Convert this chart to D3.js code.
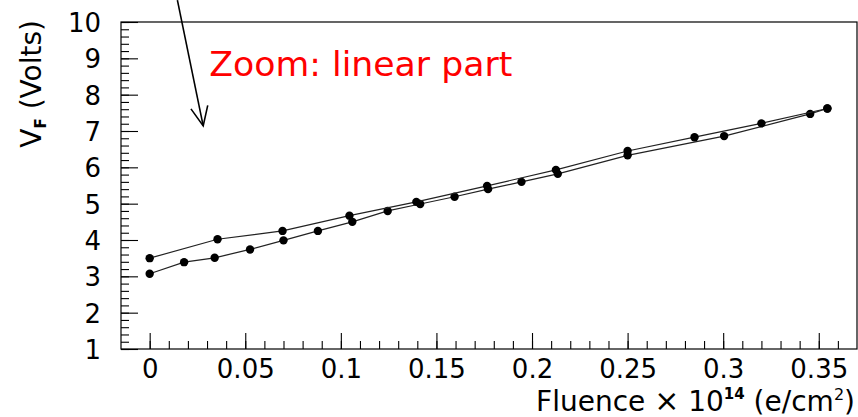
<!DOCTYPE html>
<html>
<head>
<meta charset="utf-8">
<script src="https://cdn.jsdelivr.net/npm/d3@7"></script>
<style>
  html, body { margin: 0; padding: 0; background: #fff; }
  svg { display: block; }
  text { font-family: "DejaVu Sans", sans-serif; fill: #000; }
</style>
</head>
<body>
<svg id="chart" width="858" height="417"></svg>
<script>
// Forward voltage vs. fluence: rising sweep (lower branch) and returning sweep (upper branch)
const riseFluence = [0, 0.018, 0.034, 0.0525, 0.07, 0.088, 0.106, 0.1245, 0.1415, 0.1595, 0.177, 0.1945, 0.2135, 0.25, 0.3005, 0.3455, 0.3545];
const riseVolts   = [3.07, 3.39, 3.51, 3.74, 3.99, 4.25, 4.50, 4.80, 4.99, 5.19, 5.40, 5.60, 5.82, 6.33, 6.86, 7.47, 7.62];
const fallFluence = [0.3545, 0.32, 0.285, 0.25, 0.2125, 0.1765, 0.1395, 0.1045, 0.0695, 0.0355, 0];
const fallVolts   = [7.62, 7.21, 6.83, 6.45, 5.93, 5.49, 5.05, 4.67, 4.25, 4.02, 3.50];

const xTickValues = [0, 0.05, 0.1, 0.15, 0.2, 0.25, 0.3, 0.35];
const xTickLabels = ["0", "0.05", "0.1", "0.15", "0.2", "0.25", "0.3", "0.35"];
const yTickValues = [1, 2, 3, 4, 5, 6, 7, 8, 9, 10];

const svg = d3.select("#chart");
const plotLeft = 121, plotRight = 857, plotTop = 22, plotBottom = 349;

const x = d3.scaleLinear().domain([-0.015, 0.37]).range([plotLeft, plotRight]);
const y = d3.scaleLinear().domain([1, 10]).range([plotBottom, plotTop]);

// frame (left, top, right, bottom)
svg.append("rect")
  .attr("x", plotLeft).attr("y", plotTop)
  .attr("width", plotRight - plotLeft).attr("height", plotBottom - plotTop)
  .attr("fill", "none").attr("stroke", "#000").attr("stroke-width", 1.2);

// x axis: major ticks with labels, minor ticks every 0.01, all pointing inward
const xMinor = d3.range(0, 0.3601, 0.01).map(v => +v.toFixed(3));
svg.append("g").attr("transform", `translate(0,${plotBottom})`)
  .call(d3.axisBottom(x).tickValues(xMinor).tickSizeInner(-8).tickSizeOuter(0).tickFormat(""))
  .call(g => g.select(".domain").remove());
const xAxis = svg.append("g").attr("transform", `translate(0,${plotBottom})`)
  .call(d3.axisBottom(x).tickValues(xTickValues).tickSizeInner(-16).tickSizeOuter(0)
    .tickPadding(6).tickFormat((d, i) => xTickLabels[i]));
xAxis.select(".domain").remove();
xAxis.selectAll("text").attr("font-size", 26).attr("dy", null).attr("y", 29)
  .style("font-family", "DejaVu Sans, sans-serif").attr("fill", "#000");

// y axis: major every 1, minor every 0.2, pointing inward
const yMinor = d3.range(1, 10.001, 0.2).map(v => +v.toFixed(2));
svg.append("g").attr("transform", `translate(${plotLeft},0)`)
  .call(d3.axisLeft(y).tickValues(yMinor).tickSizeInner(-8).tickSizeOuter(0).tickFormat(""))
  .call(g => g.select(".domain").remove());
const yAxis = svg.append("g").attr("transform", `translate(${plotLeft},0)`)
  .call(d3.axisLeft(y).tickValues(yTickValues).tickSizeInner(-17).tickSizeOuter(0)
    .tickPadding(20).tickFormat(d3.format("d")));
yAxis.select(".domain").remove();
yAxis.selectAll("text").attr("font-size", 26).attr("dy", "0.36em")
  .style("font-family", "DejaVu Sans, sans-serif").attr("fill", "#000");
svg.selectAll(".tick line").attr("stroke", "#000").attr("stroke-width", 1.1);

// axis titles
const xTitle = svg.append("text")
  .attr("x", 855).attr("y", 411).attr("text-anchor", "end").attr("font-size", 28);
xTitle.append("tspan").text("Fluence ");
xTitle.append("tspan").text("\u00D7").attr("font-size", 30);
xTitle.append("tspan").text(" 10");
xTitle.append("tspan").text("14").attr("font-size", 15).attr("font-weight", "bold").attr("dy", -12);
xTitle.append("tspan").text(" (e/cm").attr("dy", 12);
xTitle.append("tspan").text("2").attr("font-size", 16).attr("dy", -11);
xTitle.append("tspan").text(")").attr("dy", 11);

const yTitle = svg.append("text")
  .attr("transform", "translate(41,20) rotate(-90)")
  .attr("text-anchor", "end").attr("font-size", 28);
yTitle.append("tspan").text("V");
yTitle.append("tspan").text("F").attr("font-size", 15).attr("font-weight", "bold").attr("dy", 5);
yTitle.append("tspan").text(" (Volts)").attr("dy", -5);

// the two sweeps
const line = d3.line().x(d => x(d[0])).y(d => y(d[1]));
const rise = riseFluence.map((f, i) => [f, riseVolts[i]]);
const fall = fallFluence.map((f, i) => [f, fallVolts[i]]);

[rise, fall].forEach(series => {
  svg.append("path").datum(series)
    .attr("d", line).attr("fill", "none")
    .attr("stroke", "#222").attr("stroke-width", 1.2);
  svg.append("g").selectAll("circle").data(series).join("circle")
    .attr("cx", d => x(d[0])).attr("cy", d => y(d[1])).attr("r", 4.2)
    .attr("fill", "#000");
});

// annotation: arrow pointing into the plot and its caption
const arrowFrom = [0.0145, 10.6], arrowTo = [0.028, 7.14];
const ax0 = x(arrowFrom[0]), ay0 = y(arrowFrom[1]);
const ax1 = x(arrowTo[0]), ay1 = y(arrowTo[1]);
svg.append("line")
  .attr("x1", ax0).attr("y1", ay0).attr("x2", ax1).attr("y2", ay1)
  .attr("stroke", "#000").attr("stroke-width", 1.6);
const ang = Math.atan2(ay1 - ay0, ax1 - ax0);
const headLen = 21, headSpread = 0.42;
const head = [ang + Math.PI - headSpread, ang + Math.PI + headSpread].map(a =>
  [ax1 + headLen * Math.cos(a), ay1 + headLen * Math.sin(a)]);
svg.append("path")
  .attr("d", `M${head[0][0]},${head[0][1]}L${ax1},${ay1}L${head[1][0]},${head[1][1]}`)
  .attr("fill", "none").attr("stroke", "#000").attr("stroke-width", 1.6);

svg.append("text")
  .attr("x", x(0.0312)).attr("y", y(8.51))
  .attr("font-size", 33).attr("fill", "#ff0000").style("fill", "#ff0000")
  .attr("textLength", 303).attr("lengthAdjust", "spacingAndGlyphs")
  .text("Zoom: linear part");
</script>
</body>
</html>
